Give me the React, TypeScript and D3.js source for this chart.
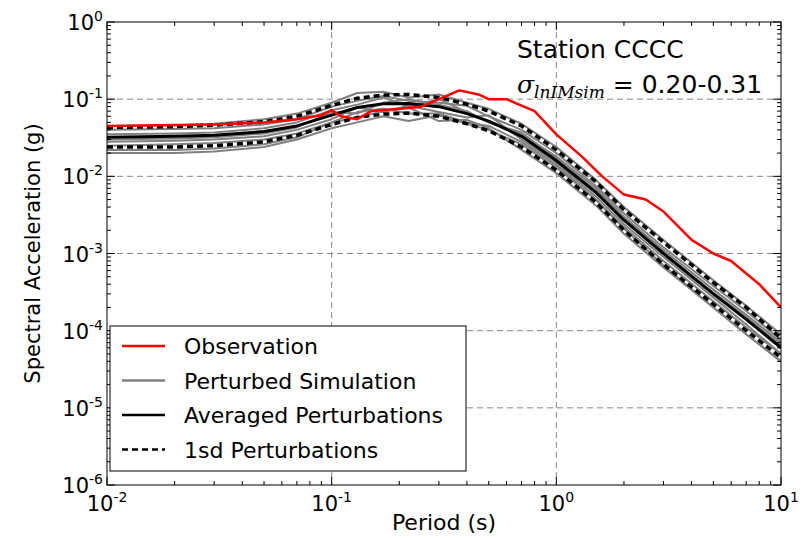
import React from 'react'
import * as d3 from 'd3'

const periods = [0.01, 0.02, 0.03, 0.05, 0.07, 0.1, 0.13, 0.17, 0.22, 0.3, 0.4, 0.5, 0.7, 1, 1.5, 2, 3, 5, 7, 10]
const meanSA = [0.032, 0.033, 0.034, 0.038, 0.045, 0.062, 0.078, 0.087, 0.088, 0.08, 0.065, 0.052, 0.033, 0.016, 0.0062, 0.0027, 0.001, 0.0003, 0.00014, 0.00006]
const upperSA = [0.043, 0.044, 0.046, 0.051, 0.06, 0.083, 0.103, 0.113, 0.115, 0.105, 0.086, 0.07, 0.045, 0.022, 0.0085, 0.0037, 0.0014, 0.00042, 0.0002, 0.00008]
const lowerSA = [0.024, 0.024, 0.025, 0.028, 0.034, 0.047, 0.058, 0.064, 0.066, 0.06, 0.048, 0.039, 0.024, 0.012, 0.0046, 0.002, 0.00072, 0.00022, 0.0001, 0.000045]
const sims = [
	[0.045, 0.046, 0.048, 0.055, 0.065, 0.09, 0.12, 0.125, 0.105, 0.115, 0.09, 0.075, 0.048, 0.024, 0.009, 0.004, 0.0015, 0.00045, 0.00021, 0.00009],
	[0.02, 0.02, 0.021, 0.024, 0.03, 0.042, 0.05, 0.06, 0.052, 0.062, 0.048, 0.04, 0.026, 0.013, 0.005, 0.0021, 0.0007, 0.0002, 0.00009, 0.00004],
	[0.035, 0.036, 0.037, 0.042, 0.05, 0.072, 0.085, 0.105, 0.08, 0.1, 0.068, 0.05, 0.035, 0.018, 0.007, 0.003, 0.0011, 0.00034, 0.00016, 0.00007],
	[0.028, 0.029, 0.03, 0.033, 0.04, 0.055, 0.078, 0.068, 0.082, 0.068, 0.058, 0.062, 0.03, 0.015, 0.0055, 0.0024, 0.0009, 0.00027, 0.00012, 0.00005],
	[0.04, 0.041, 0.042, 0.047, 0.055, 0.08, 0.095, 0.11, 0.095, 0.09, 0.082, 0.06, 0.04, 0.02, 0.0075, 0.0033, 0.0012, 0.00038, 0.00018, 0.000075],
	[0.025, 0.026, 0.027, 0.03, 0.036, 0.05, 0.068, 0.075, 0.065, 0.065, 0.05, 0.045, 0.028, 0.014, 0.005, 0.0022, 0.0008, 0.00024, 0.00011, 0.00005],
	[0.03, 0.031, 0.032, 0.036, 0.043, 0.068, 0.065, 0.09, 0.1, 0.085, 0.07, 0.05, 0.037, 0.017, 0.0065, 0.0028, 0.001, 0.00031, 0.00015, 0.000065],
	[0.022, 0.022, 0.023, 0.026, 0.032, 0.05, 0.058, 0.07, 0.078, 0.052, 0.054, 0.042, 0.022, 0.011, 0.0042, 0.0018, 0.00066, 0.0002, 0.00009, 0.00004]
]
const obsPeriods = [0.01, 0.03, 0.05, 0.07, 0.09, 0.1, 0.11, 0.13, 0.15, 0.2, 0.25, 0.3, 0.37, 0.45, 0.5, 0.6, 0.8, 1, 1.3, 1.6, 2, 2.5, 3, 4, 5, 6, 8, 10]
const obsSA = [0.045, 0.047, 0.05, 0.055, 0.062, 0.072, 0.06, 0.055, 0.07, 0.075, 0.08, 0.1, 0.13, 0.115, 0.1, 0.1, 0.07, 0.035, 0.018, 0.01, 0.0058, 0.005, 0.0035, 0.0015, 0.001, 0.0008, 0.0004, 0.0002]
const xDecades = [-2, -1, 0, 1]
const yDecades = [-6, -5, -4, -3, -2, -1, 0]

const W = 808, H = 538
const L = 107, R = 781, T = 22, B = 485
const font = 'DejaVu Sans, sans-serif'

const App = () => {
	const x = d3.scaleLog().domain([0.01, 10]).range([L, R])
	const y = d3.scaleLog().domain([1e-6, 1]).range([B, T])
	const line = (xs: number[], ys: number[]) =>
		d3.line<number>().x((_, i) => x(xs[i])).y((d) => y(d))(ys) || ''
	const minorX: number[] = []
	xDecades.slice(0, 3).forEach((e) => { for (let k = 2; k < 10; k++) minorX.push(k * 10 ** e) })
	const minorY: number[] = []
	yDecades.slice(0, 6).forEach((e) => { for (let k = 2; k < 10; k++) minorY.push(k * 10 ** e) })
	const legend = [
		{ label: 'Observation', stroke: 'red', dash: '' },
		{ label: 'Perturbed Simulation', stroke: '#808080', dash: '' },
		{ label: 'Averaged Perturbations', stroke: '#000', dash: '' },
		{ label: '1sd Perturbations', stroke: '#000', dash: '6,4' }
	]
	return (
		<svg width={W} height={H} style={{ position: 'absolute', left: 0, top: 0 }} fontFamily={font}>
			<rect width={W} height={H} fill="#fff" />
			{xDecades.slice(1, 3).map((e) => (
				<line key={e} x1={x(10 ** e)} x2={x(10 ** e)} y1={T} y2={B} stroke="#888" strokeDasharray="6,4" />
			))}
			{yDecades.slice(1, 6).map((e) => (
				<line key={e} x1={L} x2={R} y1={y(10 ** e)} y2={y(10 ** e)} stroke="#888" strokeDasharray="6,4" />
			))}
			<defs>
				<clipPath id="plot"><rect x={L} y={T} width={R - L} height={B - T} /></clipPath>
			</defs>
			<g clipPath="url(#plot)" fill="none" strokeLinejoin="round">
				{sims.map((s, i) => (
					<path key={i} d={line(periods, s)} stroke="#808080" strokeWidth={2} />
				))}
				<path d={line(periods, upperSA)} stroke="#000" strokeWidth={3.5} strokeDasharray="6,4" />
				<path d={line(periods, lowerSA)} stroke="#000" strokeWidth={3.5} strokeDasharray="6,4" />
				<path d={line(periods, meanSA)} stroke="#000" strokeWidth={3} />
				<path d={line(obsPeriods, obsSA)} stroke="red" strokeWidth={2.5} />
			</g>
			{xDecades.map((e) => (
				<g key={e}>
					<line x1={x(10 ** e)} x2={x(10 ** e)} y1={B} y2={B - 8} stroke="#000" />
					<line x1={x(10 ** e)} x2={x(10 ** e)} y1={T} y2={T + 8} stroke="#000" />
					<text x={x(10 ** e)} y={B + 26} textAnchor="middle" fontSize={21}>
						10<tspan dy={-9} fontSize={14}>{e}</tspan>
					</text>
				</g>
			))}
			{minorX.map((v, i) => (
				<g key={i} stroke="#000">
					<line x1={x(v)} x2={x(v)} y1={B} y2={B - 4} />
					<line x1={x(v)} x2={x(v)} y1={T} y2={T + 4} />
				</g>
			))}
			{yDecades.map((e) => (
				<g key={e}>
					<line x1={L} x2={L + 8} y1={y(10 ** e)} y2={y(10 ** e)} stroke="#000" />
					<line x1={R} x2={R - 8} y1={y(10 ** e)} y2={y(10 ** e)} stroke="#000" />
					<text x={L - 4} y={y(10 ** e) + 8} textAnchor="end" fontSize={21}>
						10<tspan dy={-9} fontSize={14}>{e}</tspan>
					</text>
				</g>
			))}
			{minorY.map((v, i) => (
				<g key={i} stroke="#000">
					<line x1={L} x2={L + 4} y1={y(v)} y2={y(v)} />
					<line x1={R} x2={R - 4} y1={y(v)} y2={y(v)} />
				</g>
			))}
			<rect x={L} y={T} width={R - L} height={B - T} fill="none" stroke="#000" />
			<text x={(L + R) / 2} y={530} textAnchor="middle" fontSize={22}>Period (s)</text>
			<text transform={`translate(40,${(T + B) / 2}) rotate(-90)`} textAnchor="middle" fontSize={21}>
				Spectral Acceleration (g)
			</text>
			<text x={517} y={58} fontSize={25}>Station CCCC</text>
			<text x={517} y={93} fontSize={25}>
				<tspan fontFamily="DejaVu Serif, serif" fontStyle="italic">σ</tspan>
				<tspan fontFamily="DejaVu Serif, serif" fontStyle="italic" fontSize={17} dy={5}>lnIMsim</tspan>
				<tspan dy={-5}> = 0.20-0.31</tspan>
			</text>
			<rect x={110} y={326} width={356} height={145} fill="#fff" stroke="#000" />
			{legend.map((d, i) => {
				const ly = 346 + i * 34.5
				return (
					<g key={d.label}>
						<line x1={122} x2={165} y1={ly} y2={ly} stroke={d.stroke} strokeWidth={2.5} strokeDasharray={d.dash} />
						<text x={184} y={ly + 8} fontSize={22}>{d.label}</text>
					</g>
				)
			})}
		</svg>
	)
}

export default App
